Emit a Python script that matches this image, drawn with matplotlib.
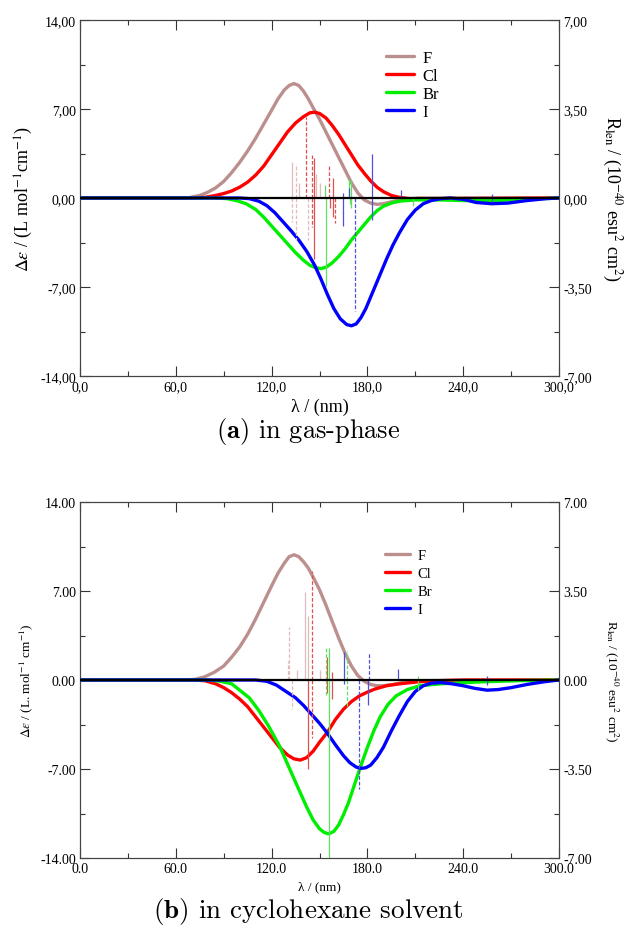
import numpy as np
import matplotlib
matplotlib.use("Agg")
import matplotlib.pyplot as plt
from matplotlib.ticker import MultipleLocator, FuncFormatter

matplotlib.rcParams['font.family'] = ['Liberation Serif', 'DejaVu Serif']
matplotlib.rcParams['mathtext.fontset'] = 'stix'
matplotlib.rcParams['axes.unicode_minus'] = False

# ---------------- (a) gas phase : CD curves (delta eps) ----------------
a_F_x = [0, 60, 68, 75, 80, 85, 90, 95, 100, 105, 110, 115, 120, 124, 128, 131, 134, 137, 140, 143, 146, 150,
         154, 158, 162, 166, 170, 174, 178, 182, 186, 190, 195, 200, 206, 212, 300]
a_F_y = [0, 0, 0.02, 0.2, 0.45, 0.8, 1.3, 2.0, 2.8, 3.7, 4.7, 5.8, 6.9, 7.8, 8.5, 8.85, 9.0, 8.85, 8.4, 7.8, 7.1, 6.2,
         5.2, 4.2, 3.2, 2.2, 1.2, 0.4, -0.15, -0.4, -0.5, -0.45, -0.3, -0.15, -0.05, 0, 0]

a_Cl_x = [0, 70, 78, 85, 90, 95, 100, 105, 110, 115, 120, 125, 130, 135, 140, 144, 147, 150, 154, 158, 162, 166,
          170, 174, 178, 182, 186, 190, 195, 200, 210, 230, 300]
a_Cl_y = [0, 0, 0.05, 0.2, 0.35, 0.55, 0.85, 1.25, 1.8, 2.5, 3.4, 4.3, 5.2, 5.9, 6.4, 6.7, 6.75, 6.65, 6.3, 5.7, 5.0, 4.2,
          3.4, 2.6, 1.95, 1.35, 0.85, 0.5, 0.2, 0.05, -0.1, -0.05, 0]

a_Br_x = [0, 85, 92, 98, 104, 110, 115, 120, 125, 130, 135, 140, 144, 148, 151, 154, 158, 162, 166, 170, 174, 178,
          182, 186, 190, 195, 200, 210, 225, 240, 260, 280, 300]
a_Br_y = [0, 0, -0.05, -0.2, -0.45, -0.9, -1.5, -2.2, -2.9, -3.6, -4.3, -4.9, -5.3, -5.5, -5.55, -5.45, -5.1, -4.6,
          -4.0, -3.3, -2.7, -2.1, -1.5, -1.0, -0.65, -0.4, -0.25, -0.15, -0.15, -0.2, -0.2, -0.1, 0]

a_I_x = [0, 100, 106, 112, 117, 122, 127, 132, 137, 142, 147, 151, 155, 159, 163, 167, 170, 173, 176, 179, 182,
         185, 188, 192, 196, 200, 205, 210, 215, 220, 226, 232, 240, 248, 258, 268, 280, 292, 300]
a_I_y = [0, 0, -0.05, -0.25, -0.6, -1.15, -1.85, -2.55, -3.3, -4.2, -5.3, -6.4, -7.6, -8.7, -9.5, -9.95, -10.05,
         -9.9, -9.4, -8.7, -7.8, -6.9, -6.0, -4.8, -3.7, -2.75, -1.7, -0.95, -0.45, -0.2, -0.05, 0, -0.1, -0.35,
         -0.45, -0.4, -0.2, -0.05, 0]

# (a) rotatory strengths (R, 1e-40 esu^2 cm^2), solid / dashed sticks
a_F_stk_x = [132.5, 137, 147.5, 150]
a_F_stk_r = [1.4, 0.6, 0.95, 0.6]
a_F_dsh_x = [133, 135, 135.5, 143]
a_F_dsh_r = [-0.95, 1.35, -1.65, -1.65]

a_Cl_stk_x = [146.5, 146.5, 158.5, 158.5, 156.5]
a_Cl_stk_r = [1.58, -2.4, 0.8, -0.75, -0.4]
a_Cl_dsh_x = [141.5, 145, 145, 156, 160]
a_Cl_dsh_r = [3.2, 1.7, -1.15, 1.3, -1.0]

a_Br_stk_x = [153.5, 154, 168.5, 169, 170, 170, 208.5]
a_Br_stk_r = [0.5, -3.45, 0.75, -0.25, 0.7, -0.4, -0.3]

a_I_stk_x = [165, 165, 168.7, 183, 183, 200.8, 258, 258]
a_I_stk_r = [0.2, -1.1, 0.4, 1.72, -0.85, 0.3, 0.15, -0.15]
a_I_dsh_x = [172]
a_I_dsh_r = [-4.45]

# ---------------- (b) cyclohexane ----------------
b_F_x = [0, 65, 72, 78, 84, 90, 95, 100, 105, 110, 115, 120, 124, 128, 131, 134, 137, 140, 143, 146, 150, 154,
         158, 162, 166, 170, 174, 178, 182, 186, 190, 196, 204, 214, 300]
b_F_y = [0, 0, 0.05, 0.25, 0.6, 1.1, 1.8, 2.6, 3.6, 4.8, 6.1, 7.4, 8.4, 9.2, 9.7, 9.85, 9.7, 9.3, 8.8, 8.1, 7.1, 5.9,
         4.6, 3.3, 2.1, 1.1, 0.35, -0.1, -0.35, -0.45, -0.45, -0.35, -0.15, -0.05, 0]

b_Cl_x = [0, 70, 78, 85, 90, 95, 100, 105, 110, 115, 120, 125, 130, 134, 138, 142, 146, 150, 155, 160, 165, 170,
          175, 180, 185, 192, 200, 213, 225, 240, 300]
b_Cl_y = [0, 0, -0.05, -0.3, -0.6, -1.0, -1.5, -2.1, -2.9, -3.7, -4.5, -5.3, -5.9, -6.2, -6.3, -6.1, -5.6, -4.9,
          -4.1, -3.1, -2.3, -1.7, -1.25, -0.95, -0.7, -0.45, -0.3, -0.13, -0.05, 0, 0]

b_Br_x = [0, 80, 88, 95, 100, 106, 112, 118, 125, 131, 137, 142, 146, 150, 153, 156, 159, 162, 165, 168, 172, 176,
          180, 184, 188, 193, 198, 205, 213, 226, 250, 275, 300]
b_Br_y = [0, 0, -0.1, -0.3, -0.8, -1.4, -2.4, -3.6, -5.2, -6.9, -8.6, -10.0, -11.0, -11.7, -12.0, -12.1, -11.9,
          -11.4, -10.6, -9.7, -8.2, -6.7, -5.3, -4.0, -2.9, -1.9, -1.25, -0.75, -0.45, -0.3, -0.15, -0.05, 0]

b_I_x = [0, 110, 117, 123, 129, 135, 140, 145, 150, 155, 160, 165, 169, 173, 176, 179, 182, 186, 190, 195, 200,
         205, 210, 215, 220, 226, 233, 240, 247, 255, 262, 270, 280, 290, 300]
b_I_y = [0, 0, -0.1, -0.4, -0.9, -1.4, -2.0, -2.7, -3.4, -4.2, -5.1, -5.95, -6.5, -6.85, -6.95, -6.9, -6.7, -6.1,
         -5.3, -4.0, -2.8, -1.7, -0.9, -0.45, -0.25, -0.2, -0.3, -0.45, -0.65, -0.8, -0.75, -0.6, -0.35, -0.15, 0]

b_F_stk_x = [136, 141, 143, 150]
b_F_stk_r = [0.4, 3.45, 2.5, 0.4]
b_F_dsh_x = [130, 131, 133]
b_F_dsh_r = [0.75, 2.1, -1.15]

b_Cl_stk_x = [142.5, 155, 155, 158, 158]
b_Cl_stk_r = [-3.5, 0.9, -0.5, 0.3, -0.75]
b_Cl_dsh_x = [145, 145.5]
b_Cl_dsh_r = [4.3, -2.3]

b_Br_stk_x = [155.7, 155.7, 212, 212]
b_Br_stk_r = [1.25, -7.5, 0.15, -0.4]
b_Br_dsh_x = [154, 154, 167, 167.5]
b_Br_dsh_r = [1.25, -0.65, 1.15, -1.05]

b_I_stk_x = [165.5, 165.5, 180.5, 199, 255, 255]
b_I_stk_r = [1.1, -0.15, -1.0, 0.45, 0.15, -0.2]
b_I_dsh_x = [174.5, 181]
b_I_dsh_r = [-4.3, 1.05]

names = ['F', 'Cl', 'Br', 'I']
line_cols = ['#bc8f8f', '#ff0000', '#00ee00', '#0000ff']
stick_cols = ['#e2bcbc', '#e05050', '#60e060', '#5050d8']

panel_a = dict(
    curves=[(a_F_x, a_F_y), (a_Cl_x, a_Cl_y), (a_Br_x, a_Br_y), (a_I_x, a_I_y)],
    solid=[(a_F_stk_x, a_F_stk_r), (a_Cl_stk_x, a_Cl_stk_r), (a_Br_stk_x, a_Br_stk_r), (a_I_stk_x, a_I_stk_r)],
    dashed=[(a_F_dsh_x, a_F_dsh_r), (a_Cl_dsh_x, a_Cl_dsh_r), ([], []), (a_I_dsh_x, a_I_dsh_r)],
)
panel_b = dict(
    curves=[(b_F_x, b_F_y), (b_Cl_x, b_Cl_y), (b_Br_x, b_Br_y), (b_I_x, b_I_y)],
    solid=[(b_F_stk_x, b_F_stk_r), (b_Cl_stk_x, b_Cl_stk_r), (b_Br_stk_x, b_Br_stk_r), (b_I_stk_x, b_I_stk_r)],
    dashed=[(b_F_dsh_x, b_F_dsh_r), (b_Cl_dsh_x, b_Cl_dsh_r), (b_Br_dsh_x, b_Br_dsh_r), (b_I_dsh_x, b_I_dsh_r)],
)

fig = plt.figure(figsize=(6.29, 9.29), dpi=100)
W, H = 629, 929


def fmt(nd, sep):
    return FuncFormatter(lambda v, p: f"{v:.{nd}f}".replace('.', sep))


def panel(top_px, data, sep, lab_fs, leg_fs, ylab, rlab, leg_y, leg_sp):
    ax = fig.add_axes([80 / W, 1 - (top_px + 356) / H, 479 / W, 356 / H])
    ax2 = ax.twinx()
    for (x, y), c, n in zip(data['curves'], line_cols, names):
        ax.plot(x, y, color=c, lw=2.4, label=n, solid_joinstyle='round', solid_capstyle='round')
    for (x, r), c in zip(data['solid'], stick_cols):
        ax2.vlines(x, 0, r, colors=c, lw=0.9)
    for (x, r), c in zip(data['dashed'], stick_cols):
        ax2.vlines(x, 0, r, colors=c, lw=0.9, linestyles=(0, (3, 1.5)))
    ax2.axhline(0, color='black', lw=1.6, zorder=5)

    ax.set_xlim(0, 300)
    ax.set_ylim(-14, 14)
    ax2.set_ylim(-7, 7)
    ax.xaxis.set_major_locator(MultipleLocator(60))
    ax.xaxis.set_minor_locator(MultipleLocator(30))
    ax.yaxis.set_major_locator(MultipleLocator(7))
    ax.yaxis.set_minor_locator(MultipleLocator(3.5))
    ax2.yaxis.set_major_locator(MultipleLocator(3.5))
    ax2.yaxis.set_minor_locator(MultipleLocator(1.75))
    ax.xaxis.set_major_formatter(fmt(1, sep))
    ax.yaxis.set_major_formatter(fmt(2, sep))
    ax2.yaxis.set_major_formatter(fmt(2, sep))

    for a in (ax, ax2):
        a.tick_params(which='both', direction='in', colors='#333333', labelcolor='black',
                      labelsize=10, pad=3, width=0.8)
        a.tick_params(which='major', length=7.5)
        a.tick_params(which='minor', length=3.8)
        for s in a.spines.values():
            s.set_color('#444444')
            s.set_linewidth(0.8)
    ax.tick_params(which='both', top=True, right=False)

    ax.set_xlabel('λ / (nm)', fontsize=lab_fs)
    ax.xaxis.set_label_coords(0.5, -0.062)
    ax.set_ylabel(ylab, fontsize=lab_fs)
    ax.yaxis.set_label_coords(-0.093, 0.5)
    ax2.set_ylabel(rlab, fontsize=lab_fs, rotation=270, va='center')
    ax2.yaxis.set_label_coords(1.11, 0.5)

    ax.legend(loc='upper left', bbox_to_anchor=(0.625, leg_y), frameon=False,
              fontsize=leg_fs, handlelength=1.7, handletextpad=0.5, labelspacing=leg_sp,
              borderaxespad=0)
    return ax


panel(21, panel_a, ',', 13, 12,
      r'$\Delta\varepsilon$ / (L mol$^{-1}$cm$^{-1}$)',
      r'R$_{\rm len}$ / (10$^{-40}$ esu$^{2}$ cm$^{2}$)', 0.935, 0.12)
panel(503, panel_b, '.', 9.5, 10.5,
      r'$\Delta\varepsilon$ / (L. mol$^{-1}$ cm$^{-1}$)',
      r'R$_{\rm len}$ / (10$^{-40}$ esu$^{2}$ cm$^{2}$)', 0.885, 0.33)

fig.text(0.49, 1 - 432 / H, r'$\mathbf{(a)}$ in gas-phase', family='cmr10',
         math_fontfamily='cm', fontsize=19, ha='center', va='center')
fig.text(0.49, 1 - 912 / H, r'$\mathbf{(b)}$ in cyclohexane solvent', family='cmr10',
         math_fontfamily='cm', fontsize=19.5, ha='center', va='center')

fig.savefig('out.png', dpi=100)
